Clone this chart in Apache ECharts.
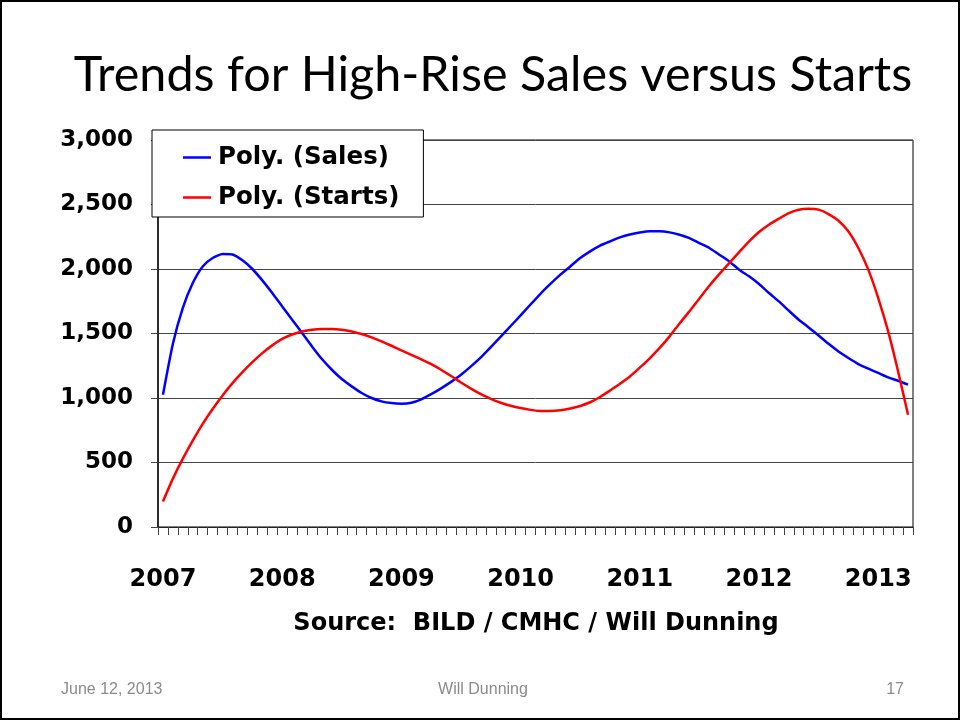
<!DOCTYPE html>
<html>
<head>
<meta charset="utf-8">
<script src="https://cdn.jsdelivr.net/npm/echarts@6/dist/echarts.min.js"></script>
<style>
  html, body { margin: 0; padding: 0; background: #fff; }
  #chart { width: 960px; height: 721px; }
</style>
</head>
<body>
<div id="chart"></div>
<script>
// monthly trend values, Jan 2007 .. Apr 2013
const years = ['2007', '2008', '2009', '2010', '2011', '2012', '2013'];
const monthCount = 76;
const salesValues = [
  1025, 1420, 1698, 1891, 2020, 2085, 2116, 2112, 2067, 2000,
  1912, 1814, 1710, 1607, 1504, 1400, 1302, 1219, 1147, 1090,
  1039, 1000, 974, 961, 956, 963, 990, 1030, 1075, 1125,
  1180, 1245, 1315, 1395, 1475, 1558, 1640, 1725, 1808, 1884,
  1956, 2020, 2085, 2137, 2181, 2214, 2245, 2268, 2283, 2292,
  2292, 2284, 2266, 2240, 2201, 2163, 2111, 2059, 1995, 1943,
  1884, 1814, 1749, 1677, 1607, 1547, 1485, 1420, 1361, 1310,
  1263, 1227, 1194, 1160, 1134, 1103
];
const startsValues = [
  198, 375, 530, 670, 800, 915, 1020, 1115, 1200, 1278,
  1348, 1408, 1458, 1492, 1515, 1529, 1535, 1535, 1529, 1516,
  1496, 1470, 1439, 1405, 1369, 1335, 1300, 1262, 1219, 1170,
  1120, 1073, 1030, 994, 963, 940, 922, 908, 900, 899,
  905, 918, 938, 967, 1008, 1058, 1110, 1167, 1235, 1308,
  1388, 1478, 1578, 1672, 1772, 1870, 1960, 2046, 2131, 2214,
  2287, 2343, 2390, 2434, 2460, 2467, 2460, 2426, 2374, 2291,
  2163, 1995, 1775, 1516, 1206, 870
];
const yTicks = [0, 500, 1000, 1500, 2000, 2500, 3000];

const months = [];
for (let i = 0; i < monthCount; i++) {
  months.push(years[Math.floor(i / 12)] + '-' + String(i % 12 + 1).padStart(2, '0'));
}

const chart = echarts.init(document.getElementById('chart'), null, { renderer: 'canvas' });

const boldFont = 'DejaVu Sans';

const option = {
  backgroundColor: '#fff',
  animation: false,
  grid: {
    left: 158,
    right: 47,
    top: 140,
    bottom: 194,
    show: true,
    borderColor: '#000',
    borderWidth: 1
  },
  legend: {
    orient: 'vertical',
    left: 152,
    top: 130,
    padding: [15, 24, 7, 31],
    itemGap: 15,
    itemWidth: 28,
    itemHeight: 2.5,
    icon: 'rect',
    backgroundColor: '#fff',
    borderColor: '#000',
    borderWidth: 1,
    textStyle: {
      fontFamily: boldFont,
      fontWeight: 'bold',
      fontSize: 24.5,
      lineHeight: 24,
      color: '#000',
      padding: [0, 0, 0, 2]
    },
    data: ['Poly. (Sales)', 'Poly. (Starts)']
  },
  xAxis: {
    type: 'category',
    boundaryGap: true,
    data: months,
    axisLine: { lineStyle: { color: '#222', width: 1 } },
    axisTick: {
      show: true,
      interval: 0,
      length: 8,
      lineStyle: { color: '#444' }
    },
    axisLabel: {
      interval: 11,
      margin: 41,
      fontFamily: boldFont,
      fontWeight: 'bold',
      fontSize: 24,
      color: '#000',
      formatter: v => v.slice(0, 4)
    },
    splitLine: { show: false }
  },
  yAxis: {
    type: 'value',
    min: yTicks[0],
    max: yTicks[yTicks.length - 1],
    interval: 500,
    axisLine: { show: true, lineStyle: { color: '#111', width: 1.5 } },
    axisTick: { show: true, length: 7, lineStyle: { color: '#444' } },
    axisLabel: {
      margin: 25,
      fontFamily: boldFont,
      fontWeight: 'bold',
      fontSize: 23,
      color: '#000',
      formatter: v => v.toLocaleString('en-US')
    },
    splitLine: { lineStyle: { color: '#444', width: 1 } }
  },
  series: [
    {
      name: 'Poly. (Sales)',
      type: 'line',
      data: salesValues,
      symbol: 'none',
      smooth: 0.2,
      lineStyle: { color: '#0000ff', width: 2.5 },
      itemStyle: { color: '#0000ff' }
    },
    {
      name: 'Poly. (Starts)',
      type: 'line',
      data: startsValues,
      symbol: 'none',
      smooth: 0.2,
      lineStyle: { color: '#ff0000', width: 2.5 },
      itemStyle: { color: '#ff0000' }
    }
  ],
  graphic: [
    {
      type: 'rect',
      shape: { x: 1, y: 1, width: 958, height: 718 },
      style: { fill: 'none', stroke: '#000', lineWidth: 2 },
      silent: true
    },
    {
      type: 'text',
      x: 493,
      y: 75,
      style: {
        text: 'Trends for High-Rise Sales versus Starts',
        font: '48.5px Lato',
        fill: '#000',
        align: 'center',
        verticalAlign: 'middle'
      }
    },
    {
      type: 'text',
      x: 536,
      y: 624,
      style: {
        text: 'Source:  BILD / CMHC / Will Dunning',
        font: 'bold 24px "DejaVu Sans"',
        fill: '#000',
        align: 'center',
        verticalAlign: 'middle'
      }
    },
    {
      type: 'text',
      x: 61,
      y: 690,
      style: {
        text: 'June 12, 2013',
        font: '16px "Liberation Sans"',
        fill: '#8b8b8b',
        align: 'left',
        verticalAlign: 'middle'
      }
    },
    {
      type: 'text',
      x: 483,
      y: 690,
      style: {
        text: 'Will Dunning',
        font: '16px "Liberation Sans"',
        fill: '#8b8b8b',
        align: 'center',
        verticalAlign: 'middle'
      }
    },
    {
      type: 'text',
      x: 904,
      y: 690,
      style: {
        text: '17',
        font: '16px "Liberation Sans"',
        fill: '#8b8b8b',
        align: 'right',
        verticalAlign: 'middle'
      }
    }
  ]
};

chart.setOption(option);
</script>
</body>
</html>
